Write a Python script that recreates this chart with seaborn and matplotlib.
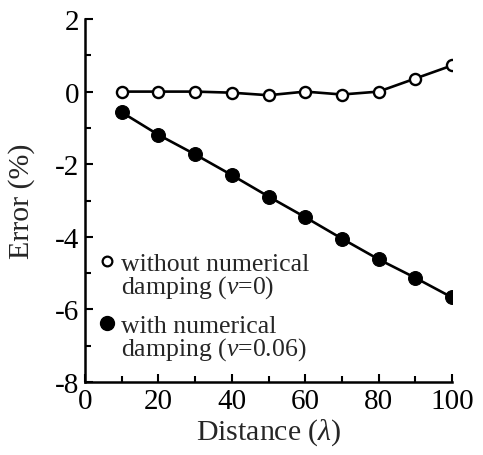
import numpy as np
import pandas as pd
import matplotlib
matplotlib.use("Agg")
import matplotlib.pyplot as plt
import seaborn as sns
from matplotlib.lines import Line2D
from matplotlib.ticker import MultipleLocator

# data
distance = [10, 20, 30, 40, 50, 60, 70, 80, 90, 100]
err_no_damping = [0.0, 0.0, 0.0, -0.03, -0.1, 0.0, -0.08, 0.0, 0.36, 0.72]
err_damping = [-0.57, -1.19, -1.73, -2.30, -2.89, -3.46, -4.05, -4.62, -5.13, -5.67]

sns.set_style("ticks")
plt.rcParams['font.family'] = ['Liberation Serif', 'DejaVu Serif']
plt.rcParams['mathtext.fontset'] = 'custom'
plt.rcParams['mathtext.rm'] = 'Liberation Serif'
plt.rcParams['mathtext.it'] = 'Liberation Serif:italic'
plt.rcParams['axes.unicode_minus'] = False

df = pd.DataFrame({'Distance': distance,
                   'nodamp': err_no_damping,
                   'damp': err_damping})

fig = plt.figure(figsize=(4.83, 4.56), dpi=100)
ax = fig.add_axes([85/483, 1-383/456, (452-85)/483, (383-20)/456])

sns.lineplot(data=df, x='Distance', y='nodamp', ax=ax, color='black', lw=1.9,
             marker='o', markersize=8, markerfacecolor='white',
             markeredgecolor='black', markeredgewidth=1.7)
sns.lineplot(data=df, x='Distance', y='damp', ax=ax, color='black', lw=1.9,
             marker='o', markersize=10, markerfacecolor='black',
             markeredgecolor='black')

ax.set_xlim(0, 100)
ax.set_ylim(-8, 2)
ax.xaxis.set_major_locator(MultipleLocator(20))
ax.xaxis.set_minor_locator(MultipleLocator(10))
ax.yaxis.set_major_locator(MultipleLocator(2))
ax.yaxis.set_minor_locator(MultipleLocator(1))
ax.tick_params(which='both', direction='in', width=1.5, labelsize=21, colors='black')
ax.tick_params(which='major', length=6)
ax.tick_params(which='minor', length=4)
ax.tick_params(axis='x', pad=4)
ax.tick_params(axis='y', pad=4)
for s in ['left', 'bottom']:
    ax.spines[s].set_linewidth(1.8)
    ax.spines[s].set_color('black')
sns.despine(ax=ax)

ax.set_xlabel(r'Distance ($\lambda$)', fontsize=21.5, labelpad=2)
ax.set_ylabel('Error (%)', fontsize=21.5)
ax.yaxis.set_label_coords(-0.136, 0.5)

# legend in two blocks, marker beside the first line of each
blank = Line2D([], [], linestyle='none', marker=None)
h_open = Line2D([], [], linestyle='none', marker='o', markersize=7,
                markerfacecolor='white', markeredgecolor='black', markeredgewidth=1.6)
h_fill = Line2D([], [], linestyle='none', marker='o', markersize=10,
                markerfacecolor='black', markeredgecolor='black')
leg_kw = dict(frameon=False, fontsize=18.5, handlelength=0.5, handletextpad=0.3,
              labelspacing=-0.08, borderpad=0, borderaxespad=0, loc='upper left')
leg1 = ax.legend([h_open, blank], ['without numerical', r'damping ($\nu$=0)'],
                 bbox_to_anchor=(0.042, 0.358), **leg_kw)
ax.add_artist(leg1)
ax.legend([h_fill, blank], ['with numerical', r'damping ($\nu$=0.06)'],
          bbox_to_anchor=(0.042, 0.187), **leg_kw)

fig.savefig('out.png', dpi=100)
